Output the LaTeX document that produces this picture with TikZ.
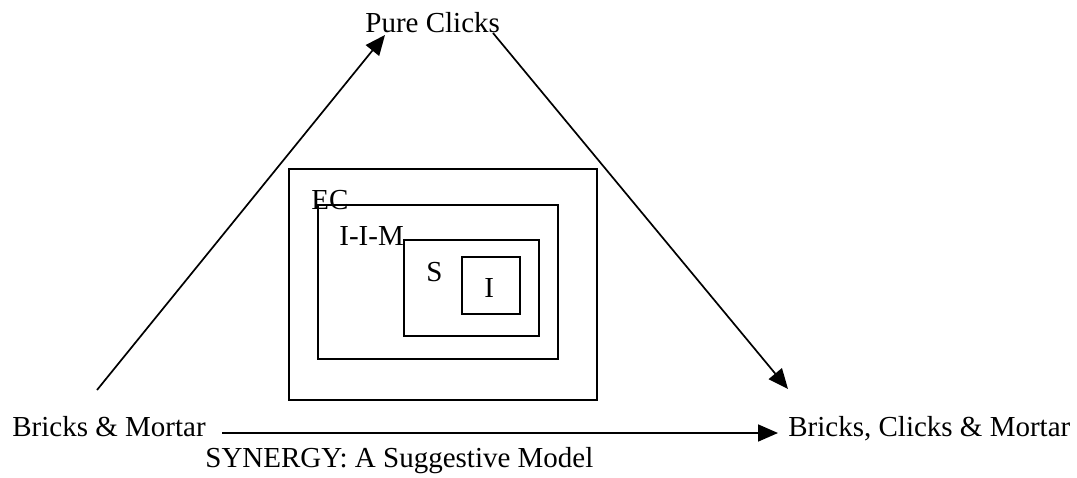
\documentclass[tikz,border=0pt]{standalone}
\usepackage{fontspec}
\setmainfont{Liberation Serif}
\usetikzlibrary{arrows.meta}
\begin{document}
\begin{tikzpicture}[x=0.5pt,y=-0.5pt,
  label/.style={inner sep=0pt,anchor=base west,font=\fontsize{14.5}{17}\selectfont},
  frame/.style={draw,line width=0.85pt},
  arr/.style={line width=0.85pt,-{Triangle[length=10pt,width=8.5pt]}}]
\useasboundingbox (0,0) rectangle (1077,477);

% corner labels
\node[label] (pc)  at (365,32)  {Pure Clicks};
\node[label] (bm)  at (12,436)  {Bricks \& Mortar};
\node[label] (bcm) at (788,436) {Bricks, Clicks \& Mortar};
\node[label] (syn) at (205,467) {SYNERGY: A Suggestive Model};

% connector end points beside the labels
\coordinate (bmUp)    at (97,390);
\coordinate (pcLeft)  at (385,35);
\coordinate (pcRight) at (493,33);
\coordinate (bcmUp)   at (788,389);
\coordinate (bmRight) at (222,433);
\coordinate (bcmLeft) at (778,433);

\draw[arr] (bmUp) -- (pcLeft);
\draw[arr] (pcRight) -- (bcmUp);
\draw[arr] (bmRight) -- (bcmLeft);

% nested boxes
\draw[frame] (289,169) rectangle (597,400);
\draw[frame] (318,205) rectangle (558,359);
\draw[frame] (404,240) rectangle (539,336);
\draw[frame] (462,257) rectangle (520,314);

\node[label] (ec)  at (311,209) {EC};
\node[label] (iim) at (339,245) {I-I-M};
\node[label] (s)   at (426,281) {S};
\node[label] (i)   at (484,297) {I};
\end{tikzpicture}
\end{document}
